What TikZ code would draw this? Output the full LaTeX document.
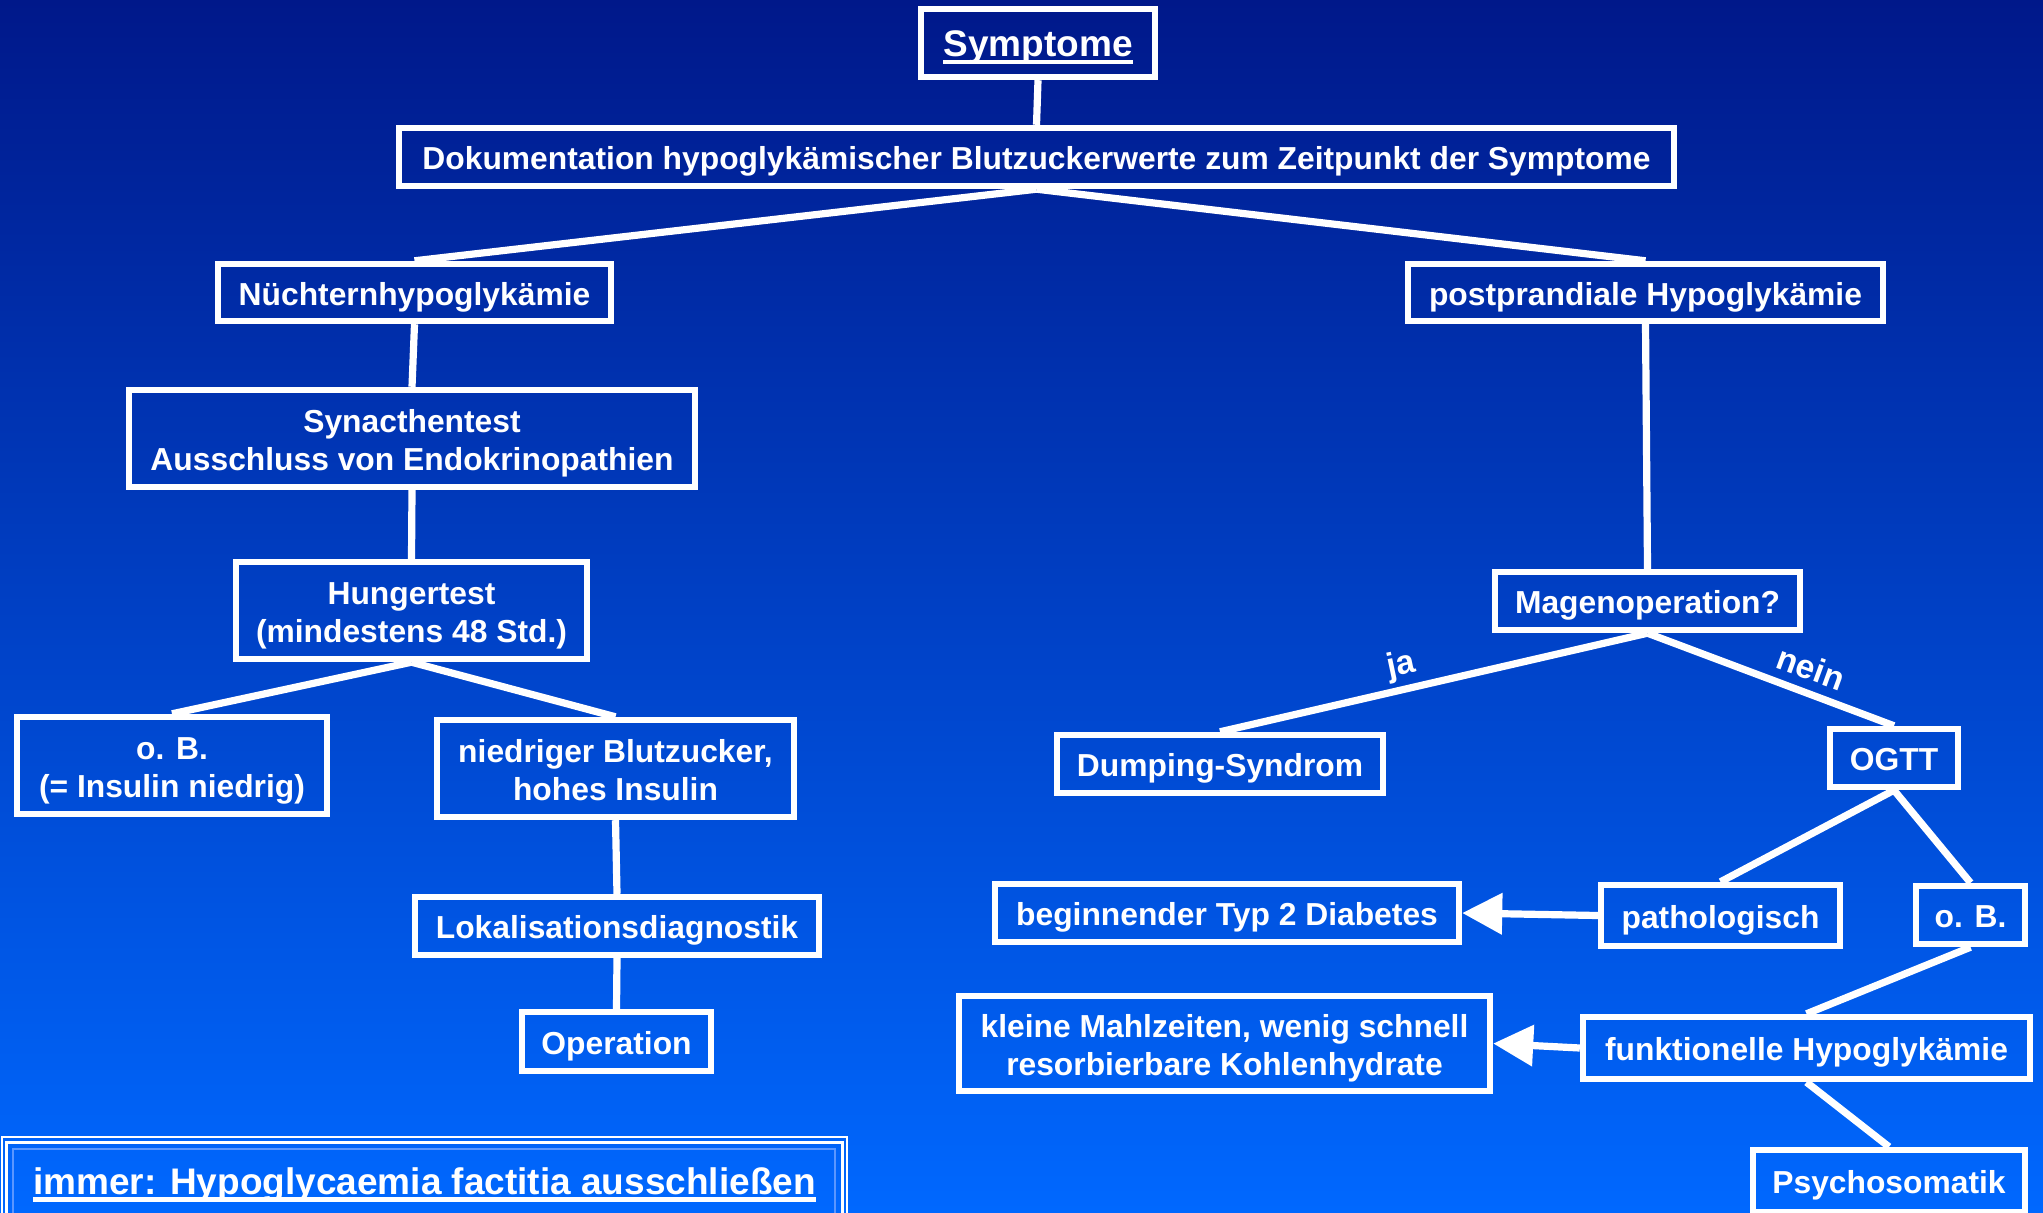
\documentclass[tikz,border=0pt]{standalone}
\usepackage{fontspec}
\setmainfont{Liberation Sans}
\usetikzlibrary{arrows.meta}
\definecolor{bgtop}{RGB}{0,24,138}
\definecolor{bgbot}{RGB}{0,104,255}
\definecolor{faintline}{RGB}{90,150,255}
\newcommand\thickul[3]{\setbox0\hbox{#1}\rlap{\color{white}\vrule width \wd0 height -#2 depth #3}\box0}
\newcommand\lw[1]{\raisebox{-2.5pt}[\height][\depth]{\begin{tabular}{@{}c@{}}#1\end{tabular}}}
\begin{document}
\begin{tikzpicture}[x=0.5pt,y=-0.5pt,
  box/.style={draw=white, line width=3.2pt, inner sep=0pt, align=center, text=white,
    font=\fontsize{15.9}{19}\selectfont\bfseries},
  conn/.style={draw=white, line width=3.6pt},
  arr/.style={conn, -{Triangle[length=20pt,width=20pt]}},
  lbl/.style={text=white, inner sep=0pt, font=\fontsize{16.8}{19}\selectfont\bfseries},
  big/.style={text=white, inner sep=0pt, font=\fontsize{18.5}{22}\selectfont\bfseries}]
\useasboundingbox (0,0) rectangle (2043,1213);
\clip (0,0) rectangle (2043,1213);
\shade[top color=bgtop,bottom color=bgbot] (0,0) rectangle (2043,1213);

% boxes
\node[box, font=\fontsize{18.5}{22}\selectfont\bfseries, minimum width=117pt, minimum height=34pt] (sym) at (1038,43) {\lw{\thickul{Symptome}{1.5pt}{3.5pt}}};
\node[box, minimum width=637.5pt, minimum height=29pt] (dok) at (1036.5,157) {\lw{Dokumentation hypoglykämischer Blutzuckerwerte zum Zeitpunkt der Symptome}};
\node[box, minimum width=196.5pt, minimum height=28.5pt] (nue) at (414.5,292.5) {\lw{Nüchternhypoglykämie}};
\node[box, minimum width=237.5pt, minimum height=28.5pt] (post) at (1645.5,292.5) {\lw{postprandiale Hypoglykämie}};
\node[box, minimum width=283pt, minimum height=48.5pt] (syn) at (412,438.5) {\lw{Synacthentest\\Ausschluss von Endokrinopathien}};
\node[box, minimum width=175.5pt, minimum height=48.5pt] (hun) at (411.5,610.5) {\lw{Hungertest\\(mindestens 48 Std.)}};
\node[box, minimum width=155pt, minimum height=48.5pt] (obl) at (172,765.5) {\lw{o. B.\\(= Insulin niedrig)}};
\node[box, minimum width=178.5pt, minimum height=48.5pt] (nie) at (615.5,768.5) {\lw{niedriger Blutzucker,\\hohes Insulin}};
\node[box, minimum width=202pt, minimum height=29pt] (lok) at (617,926) {\lw{Lokalisationsdiagnostik}};
\node[box, minimum width=94.5pt, minimum height=29.5pt] (ope) at (616.5,1041.5) {\lw{Operation}};
\node[box, minimum width=152.5pt, minimum height=29pt] (mag) at (1647.5,601) {\lw{Magenoperation?}};
\node[box, minimum width=163pt, minimum height=29pt] (dum) at (1220,764) {\lw{Dumping-Syndrom}};
\node[box, minimum width=64pt, minimum height=29pt] (ogt) at (1894,758) {\lw{OGTT}};
\node[box, minimum width=232pt, minimum height=29pt] (beg) at (1227,913) {\lw{beginnender Typ 2 Diabetes}};
\node[box, minimum width=119.5pt, minimum height=30.5pt] (pat) at (1720.5,915.5) {\lw{pathologisch}};
\node[box, minimum width=54.5pt, minimum height=29pt] (obr) at (1970.5,915) {\lw{o. B.}};
\node[box, minimum width=265.5pt, minimum height=47.5pt] (kle) at (1224.5,1043.5) {\lw{kleine Mahlzeiten, wenig schnell\\resorbierbare Kohlenhydrate}};
\node[box, minimum width=223.5pt, minimum height=31pt] (fun) at (1806.5,1048) {\lw{funktionelle Hypoglykämie}};
\node[box, minimum width=136pt, minimum height=31pt] (psy) at (1889,1181) {\lw{Psychosomatik}};

% connectors
\draw[conn] (sym.south) -- (dok.north);
\draw[conn] (dok.south) -- (nue.north);
\draw[conn] (dok.south) -- (post.north);
\draw[conn] (nue.south) -- (syn.north);
\draw[conn] (syn.south) -- (hun.north);
\draw[conn] (hun.south) -- (obl.north);
\draw[conn] (hun.south) -- (nie.north);
\draw[conn] (nie.south) -- (lok.north);
\draw[conn] (lok.south) -- (ope.north);
\draw[conn] (post.south) -- (mag.north);
\draw[conn] (mag.south) -- (dum.north);
\draw[conn] (mag.south) -- (ogt.north);
\draw[conn] (ogt.south) -- (pat.north);
\draw[conn] (ogt.south) -- (obr.north);
\draw[arr] (pat.west) -- (beg.east);
\draw[conn] (obr.south) -- (fun.north);
\draw[arr] (fun.west) -- (kle.east);
\draw[conn] (fun.south) -- (psy.north);

% edge labels
\node[lbl, rotate=12] (ja) at (1401,666) {ja};
\node[lbl, rotate=-20] (nein) at (1811,668) {nein};

% bottom-left framed note
\draw[white, line width=1pt] (2,1137) rectangle (847,1240);
\draw[white, line width=1.5pt] (6,1142) rectangle (842,1240);
\draw[faintline, line width=0.6pt] (13,1149) rectangle (835,1240);
\node[big, anchor=base] (imm) at (424.5,1194) {\thickul{immer: Hypoglycaemia factitia ausschließen}{1.5pt}{4pt}};
\end{tikzpicture}
\end{document}
